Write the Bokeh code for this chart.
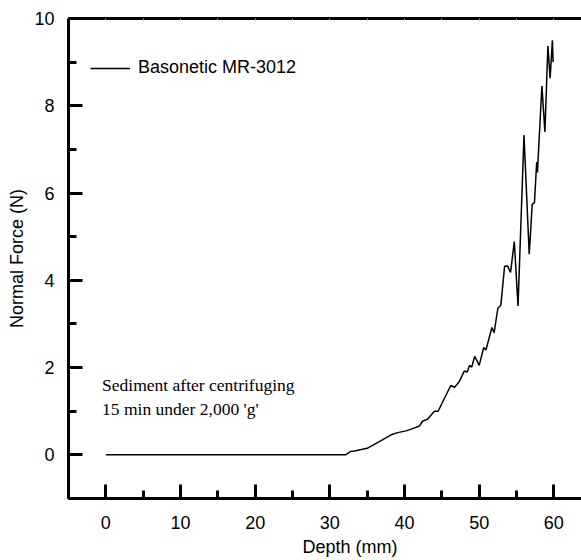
from bokeh.plotting import figure
from bokeh.models import Range1d, LinearAxis, FixedTicker, Legend, LegendItem, Label
from bokeh.embed import file_html
from bokeh.resources import INLINE

# Data
depth = [0.0, 5.0, 10.0, 15.0, 20.0, 25.0, 30.0, 32.1, 32.8, 33.3, 35.0, 36.8, 38.2, 39.1, 40.2, 40.9,
         42.0, 42.4, 43.1, 44.0, 44.5, 45.3, 46.2, 46.7, 47.3, 48.0, 48.4, 48.7, 49.0, 49.4,
         50.0, 50.6, 50.9, 51.7, 52.0, 52.5, 52.9, 53.4, 53.8, 54.2, 54.7, 55.2, 56.0, 56.7,
         57.1, 57.4, 57.7, 57.8, 58.2, 58.4, 58.8, 59.2, 59.5, 59.8, 59.9]
force = [0.0, 0.0, 0.0, 0.0, 0.0, 0.0, 0.0, 0.0, 0.08, 0.09, 0.15, 0.32, 0.46, 0.51, 0.55, 0.59,
         0.66, 0.77, 0.82, 1.0, 1.0, 1.28, 1.59, 1.55, 1.67, 1.92, 1.90, 2.05, 2.01, 2.26,
         2.05, 2.46, 2.40, 2.92, 2.80, 3.36, 3.43, 4.32, 4.33, 4.18, 4.89, 3.41, 7.33, 4.60,
         5.74, 5.78, 6.71, 6.47, 7.81, 8.45, 7.40, 9.37, 8.63, 9.50, 9.00]
x_ticks = [0, 10, 20, 30, 40, 50, 60]
x_minor = [-5, 5, 15, 25, 35, 45, 55, 65]
top_ticks = [-5, 0, 5, 10, 15, 20, 25, 30, 35, 40, 45, 50, 55, 60, 65]
y_ticks = [0, 2, 4, 6, 8, 10]
y_minor = [-1, 1, 3, 5, 7, 9]
series_name = "Basonetic MR-3012"
x_title = "Depth (mm)"
y_title = "Normal Force (N)"
note_lines = ["Sediment after centrifuging", "15 min under 2,000 'g'"]

FONT = "Liberation Sans"

# the original chart was cropped on the right, so its x title sits right of the visible centre;
# non-breaking spaces in front push the centred title over
p = figure(frame_width=513, frame_height=480, output_backend="svg", toolbar_location=None,
           x_range=Range1d(-5, 63.7), y_range=Range1d(-1, 10),
           x_axis_label="\u00a0" * 10 + x_title, y_axis_label=y_title,
           min_border_left=68, min_border_right=0, min_border_top=18, min_border_bottom=62)
p.outline_line_color = None
p.grid.visible = False
p.background_fill_color = "white"

r = p.line(depth, force, line_color="black", line_width=1.5)

for ax in [p.xaxis[0], p.yaxis[0]]:
    ax.axis_line_width = 3
    ax.major_tick_line_width = 3
    ax.minor_tick_line_width = 3
    ax.major_tick_out = 0
    ax.minor_tick_out = 0
    ax.major_tick_in = 14
    ax.minor_tick_in = 8
    ax.major_label_text_font = FONT
    ax.major_label_text_font_size = "18px"
    ax.major_label_text_color = "black"
    ax.axis_label_text_font = FONT
    ax.axis_label_text_font_size = "18px"
    ax.axis_label_text_font_style = "normal"
    ax.axis_label_text_color = "black"

p.xaxis[0].ticker = FixedTicker(ticks=x_ticks, minor_ticks=x_minor)
p.yaxis[0].ticker = FixedTicker(ticks=y_ticks, minor_ticks=y_minor)
p.xaxis[0].major_label_standoff = 17
p.xaxis[0].axis_label_standoff = 5
p.yaxis[0].major_label_standoff = 14
p.yaxis[0].axis_label_standoff = 4

top = LinearAxis(ticker=FixedTicker(ticks=top_ticks), axis_line_width=3,
                 major_tick_in=2, major_tick_out=0, major_tick_line_width=1,
                 major_tick_line_color="#999999", minor_tick_line_color=None,
                 major_label_overrides={t: "" for t in top_ticks}, major_label_standoff=0)
p.add_layout(top, "above")

legend = Legend(items=[LegendItem(label=series_name, renderers=[r])],
                location=(22, 420), padding=0, margin=0, spacing=0,
                glyph_width=40, glyph_height=20, label_standoff=8,
                label_text_font=FONT, label_text_font_size="18px", label_text_color="black",
                border_line_alpha=0, background_fill_alpha=0)
p.add_layout(legend, "center")

p.add_layout(Label(x=-0.5, y=1.59, text=note_lines[0], text_font="Liberation Serif",
                   text_font_size="17.5px", text_baseline="alphabetic", text_color="black"))
p.add_layout(Label(x=-0.5, y=1.06, text=note_lines[1], text_font="Liberation Serif",
                   text_font_size="17.5px", text_baseline="alphabetic", text_color="black"))

open("out.html", "w").write(file_html(p, INLINE))
